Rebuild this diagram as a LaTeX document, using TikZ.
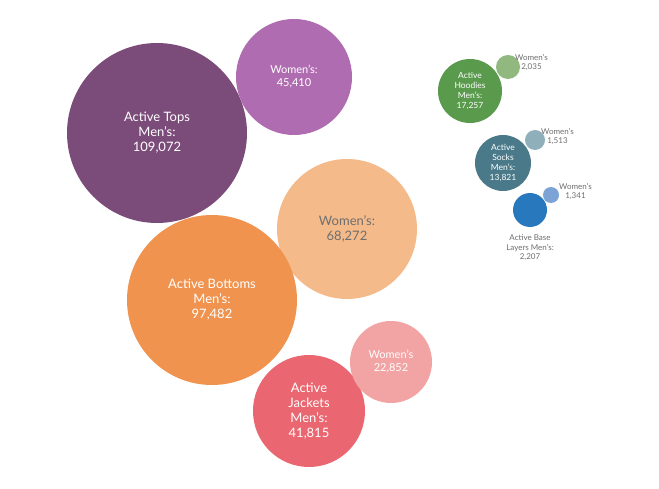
\documentclass[tikz,border=0pt]{standalone}
\usepackage{fontspec}
\setmainfont{Lato}
\usepackage{tikz}
\usetikzlibrary{positioning}

\definecolor{topsM}{HTML}{7B4C7A}
\definecolor{topsW}{HTML}{AF6CB0}
\definecolor{botM}{HTML}{EF934F}
\definecolor{botW}{HTML}{F4BA8A}
\definecolor{jackM}{HTML}{EA6670}
\definecolor{jackW}{HTML}{F2A3A3}
\definecolor{hoodM}{HTML}{5A9A4C}
\definecolor{hoodW}{HTML}{90B87F}
\definecolor{sockM}{HTML}{4A7A8A}
\definecolor{sockW}{HTML}{8FB0BB}
\definecolor{baseM}{HTML}{2878BE}
\definecolor{baseW}{HTML}{7BA3D6}
\definecolor{labelgray}{HTML}{6E6E6E}

\begin{document}
\begin{tikzpicture}[x=1pt, y=-1pt]

			% Styles
			\tikzset{
				bubble/.style={
					circle, inner sep=0pt, align=center, text=white
				},
				bigtext/.style={font=\fontsize{13}{15}\selectfont},
				midtext/.style={font=\fontsize{11}{13}\selectfont},
				smalltext/.style={font=\fontsize{8.5}{10}\selectfont},
				note/.style={align=center, text=labelgray, font=\fontsize{8}{9.5}\selectfont}
			}

			\useasboundingbox[fill=white] (0,0) rectangle (659,489);

			% Tops
			\node (topsM) [bubble, bigtext, fill=topsM, minimum size=180pt] at (157,133) {Active Tops\\Men's:\\109,072};
			\node (topsW) [bubble, midtext, fill=topsW, minimum size=116pt] at (294,77) {Women's:\\45,410};

			% Bottoms
			\node (botW) [bubble, bigtext, fill=botW, text=labelgray, minimum size=140pt] at (347,229) {Women's:\\68,272};
			\node (botM) [bubble, bigtext, fill=botM, minimum size=170pt] at (212,300) {Active Bottoms\\Men's:\\97,482};

			% Jackets
			\node (jackM) [bubble, bigtext, fill=jackM, minimum size=112pt] at (309,411) {Active\\Jackets\\Men's:\\41,815};
			\node (jackW) [bubble, midtext, fill=jackW, minimum size=82pt] at (391,362) {Women's\\22,852};

			% Hoodies
			\node (hoodM) [bubble, smalltext, fill=hoodM, minimum size=64pt] at (470,91) {Active\\Hoodies\\Men's:\\17,257};
			\node (hoodW) [bubble, fill=hoodW, minimum size=24pt] at (508,67) {};
			\node (hoodWl) [note, anchor=south west, inner sep=0pt] at (515,71) {Women's\\2,035};

			% Socks
			\node (sockM) [bubble, smalltext, fill=sockM, minimum size=56pt] at (503,163) {Active\\Socks\\Men's:\\13,821};
			\node (sockW) [bubble, fill=sockW, minimum size=20pt] at (535,140) {};
			\node (sockWl) [note, anchor=south west, inner sep=0pt] at (541,145) {Women's\\1,513};

			% Base layers
			\node (baseM) [bubble, fill=baseM, minimum size=34pt] at (530,210) {};
			\node (baseW) [bubble, fill=baseW, minimum size=16pt] at (551,195) {};
			\node (baseWl) [note, anchor=south west, inner sep=0pt] at (559,200) {Women's\\1,341};
			\node (baseMl) [note, below=4pt of baseM] {Active Base\\Layers Men's:\\2,207};

\end{tikzpicture}
\end{document}
